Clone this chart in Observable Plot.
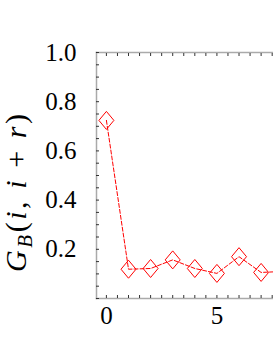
<!DOCTYPE html>
<html><head><meta charset="utf-8">
<script src="https://cdn.jsdelivr.net/npm/d3@7"></script>
<script src="https://cdn.jsdelivr.net/npm/@observablehq/plot@0.6"></script>
<style>html,body{margin:0;padding:0;background:#fff;overflow:hidden}
svg text{font-family:"Liberation Serif","Times New Roman",serif !important;}</style>
</head><body><div id="chart"></div>
<script>
const lags = [0, 1, 2, 3, 4, 5, 6, 7, 8];
const gb = [0.724, 0.119, 0.122, 0.157, 0.122, 0.102, 0.170, 0.106, 0.110];
const yTickLabels = [0.2, 0.4, 0.6, 0.8, 1.0];
const yMinorTicks = [0, 0.05, 0.1, 0.15, 0.2, 0.25, 0.3, 0.35, 0.4, 0.45, 0.5, 0.55, 0.6, 0.65, 0.7, 0.75, 0.8, 0.85, 0.9, 0.95, 1.0];
const xTickLabels = [0, 5];
const xMinorTicks = [0, 0.5, 1, 1.5, 2, 2.5, 3, 3.5, 4, 4.5, 5, 5.5, 6, 6.5, 7, 7.5];

const data = lags.map((r, i) => ({r, g: gb[i]}));

const diamond = {
  draw(ctx) {
    const w = 7.5, h = 9;
    ctx.moveTo(0, -h); ctx.lineTo(w, 0); ctx.lineTo(0, h); ctx.lineTo(-w, 0); ctx.closePath();
  }
};

const serif = "Liberation Serif";
const fs = 25;

const chart = Plot.plot({
  width: 273,
  height: 353,
  marginLeft: 96,
  marginRight: 0,
  marginTop: 52,
  marginBottom: 55,
  style: {background: "#fff", color: "#000"},
  x: {domain: [-0.448, 7.56]},
  y: {domain: [0, 1]},
  marks: [
    Plot.frame({anchor: "left", stroke: "#aaa", strokeWidth: 1.5}),
    Plot.frame({anchor: "bottom", stroke: "#aaa", strokeWidth: 1.5}),
    Plot.frame({anchor: "top", stroke: "#aaa", strokeWidth: 1.5}),
    Plot.axisY(yMinorTicks, {anchor: "left", tickSize: -3, tickFormat: () => "", label: null, stroke: "#333"}),
    Plot.axisX(xMinorTicks, {anchor: "bottom", tickSize: -3, tickFormat: () => "", label: null, stroke: "#333"}),
    Plot.axisX(xMinorTicks, {anchor: "top", tickSize: -3, tickFormat: () => "", label: null, stroke: "#333"}),
    Plot.line(data, {x: "r", y: "g", stroke: "#f00", strokeWidth: 1, strokeDasharray: "4,2", clip: true}),
    Plot.dot(data, {x: "r", y: "g", symbol: diamond, stroke: "#f00", strokeWidth: 1, fill: "none", clip: true}),
    Plot.text(yTickLabels, {x: -0.448, y: d => d, text: d => d.toFixed(1), textAnchor: "end", dx: -20, fontSize: fs, fontFamily: serif, fill: "#000"}),
    Plot.text(xTickLabels, {x: d => d, y: 0, text: d => String(d), lineAnchor: "top", dy: 8, fontSize: fs, fontFamily: serif, fill: "#000"})
  ]
});

const svg = d3.select(chart);
const t = svg.append("text")
  .attr("transform", "translate(26,193) rotate(-90)")
  .attr("text-anchor", "middle")
  .attr("font-family", serif)
  .attr("font-size", 30)
  .attr("font-style", "italic")
  .attr("textLength", 158)
  .attr("lengthAdjust", "spacing")
  .attr("fill", "#000");
t.append("tspan").text("G");
t.append("tspan").attr("font-size", 21).attr("dy", 6).text("B");
t.append("tspan").attr("dy", -6).attr("font-style", "normal").text("(");
t.append("tspan").text("i");
t.append("tspan").attr("font-style", "normal").text(", ");
t.append("tspan").text("i");
t.append("tspan").attr("font-style", "normal").text(" + ");
t.append("tspan").text("r");
t.append("tspan").attr("font-style", "normal").text(")");

document.getElementById("chart").append(chart);
</script>
</body></html>
